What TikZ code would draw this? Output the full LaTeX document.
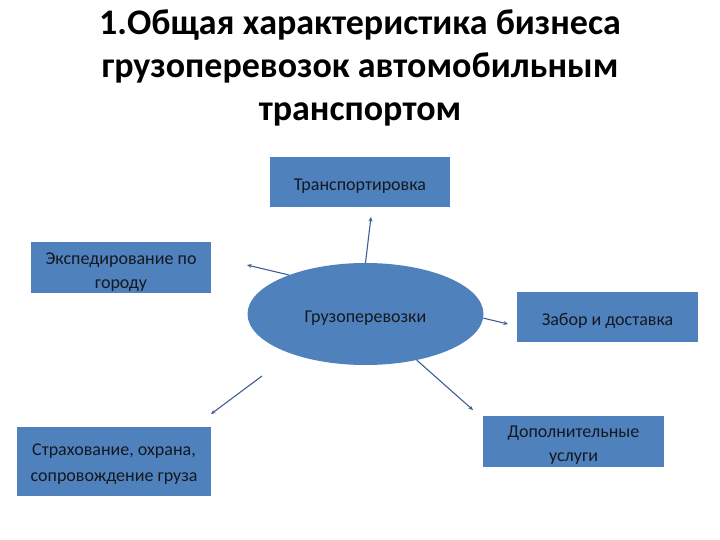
\documentclass[tikz,border=0pt]{standalone}
\usepackage{fontspec}
\setmainfont{Carlito}
\usetikzlibrary{shapes.geometric,arrows.meta}
\definecolor{boxblue}{HTML}{4F81BD}
\definecolor{arrowc}{HTML}{3E5F91}
\definecolor{txt}{HTML}{141820}
\newcommand{\pushdown}[1]{\rule{0pt}{#1}}
\tikzset{
  box/.style={rectangle, fill=boxblue, draw=none, text=txt, align=center,
    font=\fontsize{18}{24}\selectfont, inner sep=2pt},
  hub/.style={ellipse, fill=boxblue, draw=none, text=txt,
    font=\fontsize{18}{24}\selectfont, inner sep=0pt,
    minimum width=236pt, minimum height=102pt},
  arr/.style={draw=arrowc, line width=1.1pt, -{Stealth[length=4.5pt,width=4pt]}},
  ttl/.style={align=center, font=\bfseries\fontsize{36}{43}\selectfont, text=black}
}
\begin{document}
\begin{tikzpicture}[x=1pt,y=-1pt]
\useasboundingbox (0,0) rectangle (720,540);
\node[ttl] (title) at (360,68) {1.Общая характеристика бизнеса\\грузоперевозок автомобильным\\транспортом};
\node[hub] (c) at (365.5,314) {\pushdown{20pt}Грузоперевозки};
\node[box, minimum width=180pt, minimum height=50pt] (t) at (360,182) {\pushdown{20pt}Транспортировка};
\node[box, minimum width=180pt, minimum height=49pt] (e) at (121,267.5) {\pushdown{20pt}Экспедирование по\\городу};
\node[box, minimum width=181pt, minimum height=50pt] (z) at (607.5,317) {\pushdown{20pt}Забор и доставка};
\node[box, minimum width=181pt, minimum height=51pt] (d) at (573.5,441) {\pushdown{20pt}Дополнительные\\услуги};
\node[box, minimum width=194pt, minimum height=69pt, font=\fontsize{18}{26}\selectfont] (s) at (114,461.5) {\pushdown{17pt}Страхование, охрана,\\сопровождение груза};
\coordinate (tEnd) at (371,217);
\coordinate (eEnd) at (247,265);
\coordinate (zEnd) at (508,324);
\coordinate (dEnd) at (473,410);
\coordinate (sStart) at (262,376);
\coordinate (sEnd) at (211,414);
\draw[arr] (c.north) -- (tEnd);
\draw[arr] (c.153) -- (eEnd);
\draw[arr] (c.-2) -- (zEnd);
\draw[arr] (c.-42) -- (dEnd);
\draw[arr] (sStart) -- (sEnd);
\end{tikzpicture}
\end{document}
